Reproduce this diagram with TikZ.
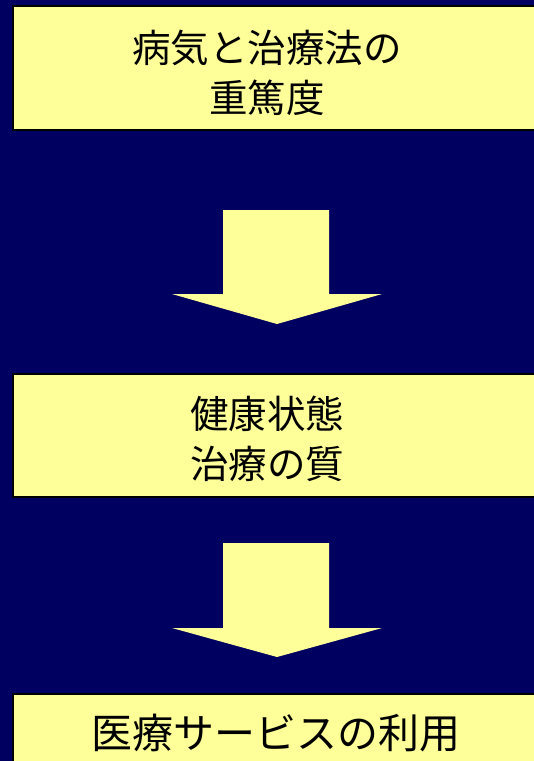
\documentclass[tikz,border=0pt]{standalone}
\usepackage{fontspec}
\newfontfamily\cjk{Noto Sans CJK JP}
\definecolor{bgnavy}{RGB}{0,0,96}
\definecolor{paleyellow}{RGB}{255,255,153}
\begin{document}
\begin{tikzpicture}[x=1pt,y=-1pt,
  box/.style={draw=black,line width=1.5pt,fill=paleyellow},
  label/.style={font=\cjk\fontsize{38.5}{50}\selectfont,align=center,text=black,inner sep=0pt},
  biglabel/.style={font=\cjk\fontsize{41}{50}\selectfont,align=center,text=black,inner sep=0pt},
  blockarrow/.style={fill=paleyellow,draw=none}]
\useasboundingbox (0,0) rectangle (534,761);
\fill[bgnavy] (0,0) rectangle (534,761);
\begin{scope}
\clip (0,0) rectangle (534,761);
\draw[box] (13,6) rectangle (560,130);
\draw[box] (13,374) rectangle (560,497);
\draw[box] (13,694) rectangle (560,790);
\end{scope}
\node[label] (b1) at (267,73) {病気と治療法の\\重篤度};
\node[label] (b2) at (267,439) {健康状態\\治療の質};
\node[biglabel] (b3) at (276,733) {医療サービスの利用};
\fill[blockarrow] (223,210) -- (329,210) -- (329,294) -- (382,294) -- (277,324) -- (172,294) -- (223,294) -- cycle;
\fill[blockarrow] (223,543) -- (329,543) -- (329,628) -- (382,628) -- (277,657) -- (172,628) -- (223,628) -- cycle;
\end{tikzpicture}
\end{document}
